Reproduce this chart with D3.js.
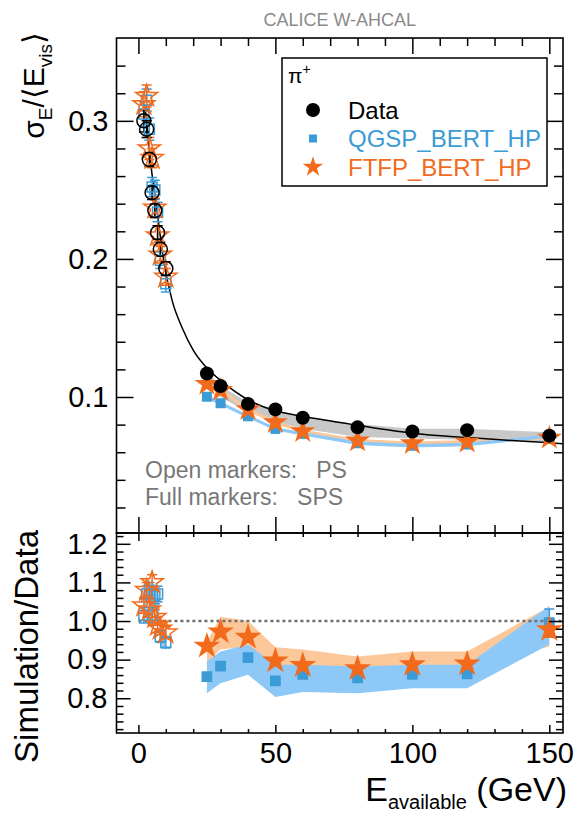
<!DOCTYPE html>
<html lang="en">
<head>
<meta charset="UTF-8">
<title>CALICE W-AHCAL pion resolution</title>
<script src="https://d3js.org/d3.v7.min.js"></script>
<style>
    body { margin: 0; background: white; }
    svg text { font-family: "Liberation Sans", Arial, sans-serif; }
</style>
</head>
<body>
<svg id="canvas" width="575" height="813"></svg>

<script>
    // beam energies (GeV)
    const ePS  = [2, 3, 4, 5, 6, 7, 8, 10];
    const eSPS = [25, 30, 40, 50, 60, 80, 100, 120, 150];

    // sigma_E/<E_vis> : data
    const dataPS    = [0.300, 0.294, 0.272, 0.248, 0.235, 0.219, 0.207, 0.193];
    const dataPSErr = [0.008, 0.006, 0.005, 0.005, 0.005, 0.005, 0.005, 0.005];
    const dataSPS   = [0.117, 0.108, 0.095, 0.091, 0.085, 0.078, 0.075, 0.076, 0.072];
    const dataBandLo = [0.110, 0.100, 0.089, 0.082, 0.077, 0.071, 0.070, 0.069, 0.0675];
    const dataBandHi = [0.118, 0.108, 0.096, 0.0905, 0.0855, 0.0805, 0.077, 0.077, 0.0745];

    // sigma_E/<E_vis> : simulation
    const qgspPS   = [0.305, 0.315, 0.294, 0.252, 0.250, 0.234, 0.199, 0.182];
    const ftfpPS   = [0.312, 0.318, 0.280, 0.273, 0.237, 0.217, 0.203, 0.187];
    const simPSErr = [0.009, 0.008, 0.008, 0.007, 0.007, 0.007, 0.006, 0.006];
    const qgspSPS  = [0.1002, 0.0954, 0.086, 0.0769, 0.0733, 0.0665, 0.0647, 0.0656, 0.0717];
    const ftfpSPS  = [0.1094, 0.105, 0.091, 0.0816, 0.0752, 0.0684, 0.0665, 0.0676, 0.0704];
    const simSPSErr = [0.0013, 0.0013, 0.0012, 0.0012, 0.0012, 0.0012, 0.0012, 0.0012, 0.0012];

    // fitted curve through the data
    const fitE = [2.2, 3, 4.4, 6.8, 9.2, 12.3, 16, 20, 25, 30, 40, 50, 60, 80, 100, 120, 150, 155];
    const fitV = [0.312, 0.300, 0.271, 0.235, 0.199, 0.170, 0.150, 0.134, 0.121, 0.112, 0.098, 0.090, 0.086, 0.0795, 0.0738, 0.0706, 0.0668, 0.0662];

    // simulation / data
    const qgspRatioPS = [1.015, 1.07, 1.08, 1.015, 1.065, 1.07, 0.96, 0.945];
    const ftfpRatioPS = [1.04, 1.08, 1.03, 1.10, 1.01, 0.99, 0.98, 0.97];
    const ratioPSErr  = [0.02, 0.02, 0.02, 0.02, 0.02, 0.02, 0.015, 0.015];
    const qgspPSBandLo = [0.99, 1.04, 1.05, 0.99, 1.03, 1.04, 0.94, 0.925];
    const qgspPSBandHi = [1.04, 1.10, 1.11, 1.04, 1.09, 1.10, 0.98, 0.965];
    const qgspRatioSPS = [0.856, 0.883, 0.905, 0.845, 0.862, 0.853, 0.862, 0.863, 0.996];
    const ftfpRatioSPS = [0.935, 0.972, 0.958, 0.897, 0.885, 0.877, 0.887, 0.889, 0.978];
    const qgspRatioErr = [0.004, 0.004, 0.004, 0.004, 0.004, 0.004, 0.004, 0.004, 0.035];
    const ftfpRatioErr = [0.004, 0.004, 0.004, 0.004, 0.004, 0.004, 0.004, 0.004, 0.02];
    const ftfpBandLo = [0.892, 0.926, 0.934, 0.882, 0.879, 0.874, 0.879, 0.879, 0.934];
    const ftfpBandHi = [0.947, 1.011, 1.000, 0.932, 0.926, 0.908, 0.921, 0.921, 1.037];
    const qgspBandLo = [0.813, 0.839, 0.861, 0.803, 0.816, 0.813, 0.826, 0.826, 0.939];
    const qgspBandHi = [0.895, 0.921, 0.939, 0.887, 0.887, 0.882, 0.887, 0.887, 1.039];

    // axis ticks
    const xMajor = [0, 50, 100, 150];
    const xMinor = [10, 20, 30, 40, 60, 70, 80, 90, 110, 120, 130, 140];
    const yTopMajor = [0.1, 0.2, 0.3];
    const yTopMinor = [0.02, 0.04, 0.06, 0.08, 0.12, 0.14, 0.16, 0.18, 0.22, 0.24, 0.26, 0.28, 0.32, 0.34];
    const yBotMajor = [0.8, 0.9, 1.0, 1.1, 1.2];
    const yBotMinor = [0.72, 0.74, 0.76, 0.78, 0.82, 0.84, 0.86, 0.88, 0.92, 0.94, 0.96, 0.98,
                       1.02, 1.04, 1.06, 1.08, 1.12, 1.14, 1.16, 1.18, 1.22];

    const BLUE = "#3b9bd6", ORANGE = "#f26b1d";
    const BLUE_BAND = "#8ec8f6", ORANGE_BAND = "#fcc89a", GREY_BAND = "#c8c8c8";

    let svg = d3.select('#canvas');

    let x = d3.scaleLinear().domain([-8, 155]).range([116.5, 563]);
    let yTop = d3.scaleLinear().domain([0.0015, 0.36]).range([533, 38]);
    let yBot = d3.scaleLinear().domain([0.71, 1.228]).range([733, 533]);

    // clip paths for the two pads
    let defs = svg.append('defs');
    defs.append('clipPath').attr('id', 'clipTop').append('rect')
        .attr('x', x.range()[0]).attr('y', yTop.range()[1])
        .attr('width', x.range()[1] - x.range()[0]).attr('height', yTop.range()[0] - yTop.range()[1]);
    defs.append('clipPath').attr('id', 'clipBot').append('rect')
        .attr('x', x.range()[0]).attr('y', yBot.range()[1])
        .attr('width', x.range()[1] - x.range()[0]).attr('height', yBot.range()[0] - yBot.range()[1]);

    function zip(es, vs) {
        return es.map(function (e, i) { return {e: e, v: vs[i]}; });
    }
    function zipBand(es, lo, hi) {
        return es.map(function (e, i) { return {e: e, lo: lo[i], hi: hi[i]}; });
    }

    function band(g, data, y, color) {
        let area = d3.area()
            .x(function (d) { return x(d.e); })
            .y0(function (d) { return y(d.lo); })
            .y1(function (d) { return y(d.hi); });
        g.append('path').datum(data).attr('d', area).attr('fill', color).attr('stroke', 'none');
    }

    function errorBars(g, es, vs, errs, y, color, cap) {
        let sel = g.append('g').attr('stroke', color).attr('stroke-width', 1.5);
        es.forEach(function (e, i) {
            let x0 = x(e), y1 = y(vs[i] - errs[i]), y2 = y(vs[i] + errs[i]);
            sel.append('line').attr('x1', x0).attr('x2', x0).attr('y1', y1).attr('y2', y2);
            sel.append('line').attr('x1', x0 - cap).attr('x2', x0 + cap).attr('y1', y1).attr('y2', y1);
            sel.append('line').attr('x1', x0 - cap).attr('x2', x0 + cap).attr('y1', y2).attr('y2', y2);
        });
    }

    function markers(g, es, vs, y, type, size, color, open) {
        let sym = d3.symbol().type(type).size(size);
        g.append('g').selectAll('path')
            .data(zip(es, vs))
            .enter()
            .append('path')
            .attr('d', sym)
            .attr('transform', function (d) { return 'translate(' + x(d.e) + ',' + y(d.v) + ')'; })
            .attr('fill', open ? 'none' : color)
            .attr('stroke', open ? color : 'none')
            .attr('stroke-width', open ? 1.5 : 0);
    }

    // d3 sizes are areas
    const STAR = 150, SQUARE = 100, CIRCLE = Math.PI * 7 * 7;

    // ---------- top pad ----------
    let topPad = svg.append('g').attr('clip-path', 'url(#clipTop)');

    band(topPad, zipBand(eSPS, dataBandLo, dataBandHi), yTop, GREY_BAND);
    band(topPad, zipBand(eSPS, ftfpSPS.map(function (v, i) { return v - simSPSErr[i]; }),
                               ftfpSPS.map(function (v, i) { return v + simSPSErr[i]; })), yTop, ORANGE_BAND);
    band(topPad, zipBand(eSPS, qgspSPS.map(function (v, i) { return v - simSPSErr[i]; }),
                               qgspSPS.map(function (v, i) { return v + simSPSErr[i]; })), yTop, BLUE_BAND);

    let fitLine = d3.line()
        .x(function (d) { return x(d.e); })
        .y(function (d) { return yTop(d.v); })
        .curve(d3.curveMonotoneX);
    topPad.append('path').datum(zip(fitE, fitV)).attr('d', fitLine)
        .attr('fill', 'none').attr('stroke', 'black').attr('stroke-width', 1.5);

    errorBars(topPad, ePS, qgspPS, simPSErr, yTop, BLUE, 5);
    errorBars(topPad, ePS, ftfpPS, simPSErr, yTop, ORANGE, 5);
    errorBars(topPad, ePS, dataPS, dataPSErr, yTop, 'black', 5);

    markers(topPad, ePS, qgspPS, yTop, d3.symbolSquare, SQUARE, BLUE, true);
    markers(topPad, ePS, ftfpPS, yTop, d3.symbolStar, STAR, ORANGE, true);
    markers(topPad, ePS, dataPS, yTop, d3.symbolCircle, CIRCLE, 'black', true);

    markers(topPad, eSPS, qgspSPS, yTop, d3.symbolSquare, SQUARE, BLUE, false);
    markers(topPad, eSPS, ftfpSPS, yTop, d3.symbolStar, STAR * 1.3, ORANGE, false);
    markers(topPad, eSPS, dataSPS, yTop, d3.symbolCircle, CIRCLE, 'black', false);

    // ---------- bottom pad ----------
    let botPad = svg.append('g').attr('clip-path', 'url(#clipBot)');

    band(botPad, zipBand(eSPS, ftfpBandLo, ftfpBandHi), yBot, ORANGE_BAND);
    band(botPad, zipBand(eSPS, qgspBandLo, qgspBandHi), yBot, BLUE_BAND);
    band(botPad, zipBand(ePS, qgspPSBandLo, qgspPSBandHi), yBot, BLUE_BAND);

    botPad.append('line')
        .attr('x1', x(0)).attr('x2', x(155))
        .attr('y1', yBot(1)).attr('y2', yBot(1))
        .attr('stroke', '#6f6f6f').attr('stroke-width', 2.5).attr('stroke-dasharray', '3,3');

    errorBars(botPad, ePS, qgspRatioPS, ratioPSErr, yBot, BLUE, 5);
    errorBars(botPad, ePS, ftfpRatioPS, ratioPSErr, yBot, ORANGE, 5);
    errorBars(botPad, eSPS, qgspRatioSPS, qgspRatioErr, yBot, BLUE, 5);
    errorBars(botPad, eSPS, ftfpRatioSPS, ftfpRatioErr, yBot, ORANGE, 5);

    markers(botPad, ePS, qgspRatioPS, yBot, d3.symbolSquare, SQUARE, BLUE, true);
    markers(botPad, ePS, ftfpRatioPS, yBot, d3.symbolStar, STAR, ORANGE, true);
    markers(botPad, eSPS, qgspRatioSPS, yBot, d3.symbolSquare, SQUARE * 1.15, BLUE, false);
    markers(botPad, eSPS, ftfpRatioSPS, yBot, d3.symbolStar, STAR * 1.5, ORANGE, false);

    // ---------- frames and axes ----------
    function frame(y) {
        svg.append('rect')
            .attr('x', x.range()[0]).attr('y', y.range()[1])
            .attr('width', x.range()[1] - x.range()[0]).attr('height', y.range()[0] - y.range()[1])
            .attr('fill', 'none').attr('stroke', 'black').attr('stroke-width', 1.6);
    }

    function ticks(axisFn, scale, values, len, translate, labelFmt, pad) {
        let ax = axisFn(scale).tickValues(values).tickSizeInner(-len).tickSizeOuter(0)
            .tickPadding(pad || 0)
            .tickFormat(labelFmt || '');
        let g = svg.append('g').attr('transform', translate).call(ax);
        g.select('.domain').remove();
        g.selectAll('.tick line').attr('stroke', 'black').attr('stroke-width', 1.5);
        g.selectAll('.tick text').attr('font-size', 29).attr('fill', 'black')
            .attr('font-family', '"Liberation Sans", Arial, sans-serif');
        return g;
    }

    let xl = x.range()[0], xr = x.range()[1];

    // top pad
    ticks(d3.axisLeft, yTop, yTopMajor, 17, 'translate(' + xl + ',0)', d3.format('.1f'), 8);
    ticks(d3.axisLeft, yTop, yTopMinor, 9, 'translate(' + xl + ',0)');
    ticks(d3.axisRight, yTop, yTopMajor, 17, 'translate(' + xr + ',0)');
    ticks(d3.axisRight, yTop, yTopMinor, 9, 'translate(' + xr + ',0)');
    ticks(d3.axisBottom, x, xMajor, 16, 'translate(0,' + yTop.range()[0] + ')');
    ticks(d3.axisBottom, x, xMinor, 8, 'translate(0,' + yTop.range()[0] + ')');
    ticks(d3.axisTop, x, xMajor, 16, 'translate(0,' + yTop.range()[1] + ')');
    ticks(d3.axisTop, x, xMinor, 8, 'translate(0,' + yTop.range()[1] + ')');

    // bottom pad
    ticks(d3.axisLeft, yBot, yBotMajor, 14, 'translate(' + xl + ',0)', d3.format('.1f'), 9);
    ticks(d3.axisLeft, yBot, yBotMinor, 7, 'translate(' + xl + ',0)');
    ticks(d3.axisRight, yBot, yBotMajor, 14, 'translate(' + xr + ',0)');
    ticks(d3.axisRight, yBot, yBotMinor, 7, 'translate(' + xr + ',0)');
    ticks(d3.axisBottom, x, xMajor, 8, 'translate(0,' + yBot.range()[0] + ')', d3.format('d'), 9);
    ticks(d3.axisBottom, x, xMinor, 4, 'translate(0,' + yBot.range()[0] + ')');
    ticks(d3.axisTop, x, xMajor, 8, 'translate(0,' + yBot.range()[1] + ')');
    ticks(d3.axisTop, x, xMinor, 4, 'translate(0,' + yBot.range()[1] + ')');

    frame(yTop);
    frame(yBot);

    // ---------- texts ----------
    svg.append('text')
        .attr('x', (xl + xr) / 2).attr('y', 26)
        .attr('text-anchor', 'middle').attr('font-size', 18).attr('fill', '#8a8a8a')
        .text('CALICE W-AHCAL');

    // y title, top pad
    let yt = svg.append('text')
        .attr('transform', 'translate(44,32) rotate(-90)')
        .attr('text-anchor', 'end').attr('font-size', 30).attr('fill', 'black');
    yt.append('tspan').text('σ');
    yt.append('tspan').attr('font-size', 19).attr('dy', 8).text('E');
    yt.append('tspan').attr('dy', -8).text('/⟨E');
    yt.append('tspan').attr('font-size', 19).attr('dy', 8).text('vis');
    yt.append('tspan').attr('dy', -8).text('⟩');

    // y title, bottom pad
    svg.append('text')
        .attr('transform', 'translate(38,530) rotate(-90)')
        .attr('text-anchor', 'end').attr('font-size', 33).attr('fill', 'black')
        .text('Simulation/Data');

    // x title
    let xt = svg.append('text')
        .attr('x', 567).attr('y', 801)
        .attr('text-anchor', 'end').attr('font-size', 34).attr('fill', 'black');
    xt.append('tspan').text('E');
    xt.append('tspan').attr('font-size', 20).attr('dy', 8).text('available');
    xt.append('tspan').attr('dy', -8).text(' (GeV)');

    // PS / SPS note
    svg.append('text').attr('x', 145).attr('y', 478).attr('font-size', 23).attr('fill', '#777')
        .style('white-space', 'pre')
        .text('Open markers:   PS');
    svg.append('text').attr('x', 145).attr('y', 505).attr('font-size', 23).attr('fill', '#777')
        .style('white-space', 'pre')
        .text('Full markers:   SPS');

    // ---------- legend ----------
    let leg = svg.append('g');
    leg.append('rect').attr('x', 282).attr('y', 58).attr('width', 265).attr('height', 128)
        .attr('fill', 'white').attr('stroke', 'black').attr('stroke-width', 1.5);
    let pi = leg.append('text').attr('x', 288).attr('y', 83).attr('font-size', 21).attr('fill', 'black');
    pi.append('tspan').text('π');
    pi.append('tspan').attr('font-size', 14).attr('dy', -9).text('+');

    const legendItems = [
        {label: 'Data', color: 'black', type: d3.symbolCircle, size: CIRCLE},
        {label: 'QGSP_BERT_HP', color: BLUE, type: d3.symbolSquare, size: 64},
        {label: 'FTFP_BERT_HP', color: ORANGE, type: d3.symbolStar, size: 130}
    ];
    legendItems.forEach(function (item, i) {
        let cy = 110 + i * 28.5;
        leg.append('path').attr('d', d3.symbol().type(item.type).size(item.size))
            .attr('transform', 'translate(313,' + cy + ')').attr('fill', item.color);
        leg.append('text').attr('x', 348).attr('y', cy + 8.5).attr('font-size', 24)
            .attr('fill', item.color).text(item.label);
    });
</script>
</body>
</html>
